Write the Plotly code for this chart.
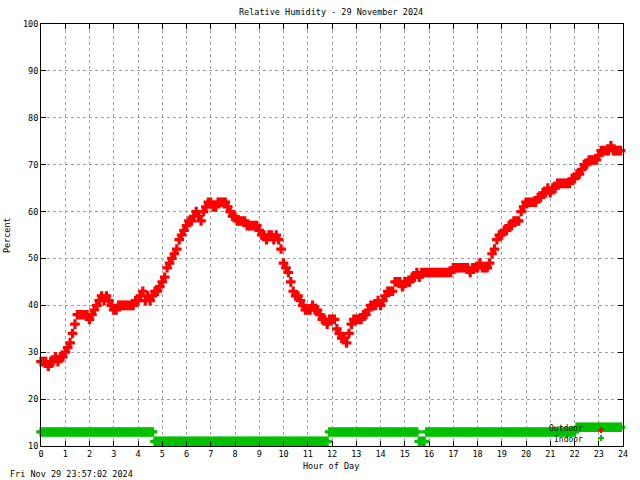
import plotly.graph_objects as go

# sample times (hours), one reading every 0.1 h
hours = [round(i / 10, 1) for i in range(240)]

outdoor = [
    28, 28, 28, 27, 28, 28, 29, 28, 29, 29,   # 0
    30, 31, 32, 34, 36, 38, 38, 38, 38, 38,   # 1
    37, 38, 39, 40, 41, 42, 41, 42, 41, 40,   # 2
    39, 39, 40, 40, 40, 40, 40, 40, 40, 41,   # 3
    41, 42, 43, 41, 42, 41, 42, 43, 43, 44,   # 4
    45, 46, 48, 49, 50, 51, 52, 54, 55, 56,   # 5
    57, 58, 58, 59, 60, 59, 58, 60, 61, 62,   # 6
    62, 61, 61, 62, 62, 62, 62, 61, 60, 59,   # 7
    59, 58, 58, 58, 58, 57, 57, 57, 57, 57,   # 8
    56, 55, 55, 54, 55, 55, 54, 55, 54, 52,   # 9
    49, 48, 47, 45, 43, 42, 42, 41, 40, 39,   # 10
    39, 39, 40, 39, 39, 38, 37, 37, 36, 37,   # 11
    37, 37, 35, 34, 33, 33, 32, 34, 36, 37,   # 12
    37, 37, 37, 38, 38, 39, 40, 40, 40, 41,   # 13
    40, 41, 42, 43, 43, 43, 45, 45, 45, 44,   # 14
    45, 45, 45, 46, 46, 47, 46, 47, 47, 47,   # 15
    47, 47, 47, 47, 47, 47, 47, 47, 47, 47,   # 16
    48, 48, 48, 48, 48, 48, 48, 47, 48, 48,   # 17
    48, 49, 48, 48, 48, 49, 51, 52, 54, 55,   # 18
    55, 56, 56, 57, 57, 58, 58, 58, 60, 61,   # 19
    62, 62, 62, 62, 62, 63, 63, 64, 64, 65,   # 20
    64, 65, 65, 66, 66, 66, 66, 66, 66, 67,   # 21
    67, 68, 68, 69, 70, 70, 71, 71, 71, 71,   # 22
    72, 73, 73, 73, 73, 74, 73, 73, 73, 73,   # 23
]

indoor = [
    13, 13, 13, 13, 13, 13, 13, 13, 13, 13,   # 0
    13, 13, 13, 13, 13, 13, 13, 13, 13, 13,   # 1
    13, 13, 13, 13, 13, 13, 13, 13, 13, 13,   # 2
    13, 13, 13, 13, 13, 13, 13, 13, 13, 13,   # 3
    13, 13, 13, 13, 13, 13, 13, 11, 11, 11,   # 4
    11, 11, 11, 11, 11, 11, 11, 11, 11, 11,   # 5
    11, 11, 11, 11, 11, 11, 11, 11, 11, 11,   # 6
    11, 11, 11, 11, 11, 11, 11, 11, 11, 11,   # 7
    11, 11, 11, 11, 11, 11, 11, 11, 11, 11,   # 8
    11, 11, 11, 11, 11, 11, 11, 11, 11, 11,   # 9
    11, 11, 11, 11, 11, 11, 11, 11, 11, 11,   # 10
    11, 11, 11, 11, 11, 11, 11, 11, 11, 13,   # 11
    13, 13, 13, 13, 13, 13, 13, 13, 13, 13,   # 12
    13, 13, 13, 13, 13, 13, 13, 13, 13, 13,   # 13
    13, 13, 13, 13, 13, 13, 13, 13, 13, 13,   # 14
    13, 13, 13, 13, 13, 13, 11, 11, 11, 13,   # 15
    13, 13, 13, 13, 13, 13, 13, 13, 13, 13,   # 16
    13, 13, 13, 13, 13, 13, 13, 13, 13, 13,   # 17
    13, 13, 13, 13, 13, 13, 13, 13, 13, 13,   # 18
    13, 13, 13, 13, 13, 13, 13, 13, 13, 13,   # 19
    13, 13, 13, 13, 13, 13, 13, 13, 13, 13,   # 20
    13, 13, 13, 13, 13, 13, 13, 13, 13, 13,   # 21
    13, 14, 14, 14, 14, 14, 14, 14, 14, 14,   # 22
    14, 14, 14, 14, 14, 14, 14, 14, 14, 14,   # 23
]

x_ticks = list(range(0, 25))
y_ticks = list(range(10, 101, 10))

title_text = "Relative Humidity - 29 November 2024"
x_title = "Hour of Day"
y_title = "Percent"
footer = "Fri Nov 29 23:57:02 2024"
series_names = ["Outdoor", "Indoor"]

RED = "#ff0000"
GREEN = "#00c000"
FONT = "DejaVu Sans Mono"
FS = 8.5

fig = go.Figure()
fig.add_trace(go.Scatter(
    x=hours, y=outdoor, mode="markers", name=series_names[0],
    marker=dict(symbol="cross", size=8, color=RED, line=dict(width=0)),
    cliponaxis=False, showlegend=False))
fig.add_trace(go.Scatter(
    x=hours, y=indoor, mode="markers", name=series_names[1],
    marker=dict(symbol="cross", size=8, color=GREEN, line=dict(width=0)),
    cliponaxis=False, showlegend=False))

axis_common = dict(
    showline=True, linecolor="black", linewidth=1, mirror="ticks",
    ticks="inside", ticklen=5, tickcolor="black", tickwidth=1,
    showgrid=True, gridcolor="#a0a0a0", gridwidth=1, griddash="3px,3px",
    zeroline=False, tickfont=dict(family=FONT, size=FS, color="black"),
)

fig.update_xaxes(range=[0, 24], tickvals=x_ticks, ticktext=[str(v) for v in x_ticks], **axis_common)
fig.update_yaxes(range=[10, 100], tickvals=y_ticks, ticktext=[str(v) for v in y_ticks], **axis_common)

annotations = [
    dict(text=title_text, xref="paper", yref="paper", x=(332 - 41) / 584, y=(446 - 12) / 422,
         xanchor="center", yanchor="middle", showarrow=False, fs=FS),
    dict(text=x_title, xref="paper", yref="paper", x=(332 - 41) / 584, y=(446 - 466) / 422,
         xanchor="center", yanchor="middle", showarrow=False, fs=FS),
    dict(text=y_title, xref="paper", yref="paper", x=(7 - 41) / 584, y=(446 - 235) / 422,
         xanchor="center", yanchor="middle", showarrow=False, textangle=-90, fs=FS),
    dict(text=footer, xref="paper", yref="paper", x=(8 - 41) / 584, y=(446 - 474) / 422,
         xanchor="left", yanchor="middle", showarrow=False, fs=FS),
    dict(text=series_names[0], xref="paper", yref="paper", x=(587 - 41) / 584, y=(446 - 428.5) / 422,
         xanchor="right", yanchor="middle", showarrow=False, fs=8),
    dict(text=series_names[1], xref="paper", yref="paper", x=(587 - 41) / 584, y=(446 - 439) / 422,
         xanchor="right", yanchor="middle", showarrow=False, fs=8),
]
for a in annotations:
    a["font"] = dict(family=FONT, size=a.pop("fs"), color="black")

shapes = []
for color, py in [(RED, 430), (GREEN, 438)]:
    shapes.append(dict(
        type="path", xref="paper", yref="paper",
        xsizemode="pixel", ysizemode="pixel",
        xanchor=(603 - 41) / 584, yanchor=(446 - py) / 422,
        path="M-3,0 L3,0 M0,-3 L0,3",
        line=dict(color=color, width=2)))

fig.update_layout(
    width=640, height=480,
    margin=dict(l=41, r=15, t=24, b=34),
    paper_bgcolor="white", plot_bgcolor="white",
    font=dict(family=FONT, size=FS, color="black"),
    annotations=annotations, shapes=shapes,
    showlegend=False,
)

fig.write_html("out.html")
